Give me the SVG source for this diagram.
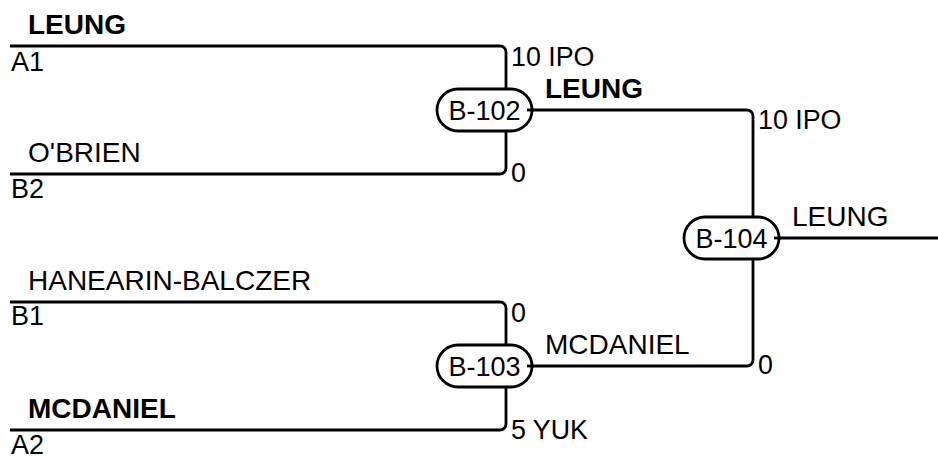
<svg xmlns="http://www.w3.org/2000/svg" width="938" height="457" viewBox="0 0 938 457">
<style>
text{font-family:"Liberation Sans",Arial,sans-serif;font-size:27px;fill:#000}
.n{font-size:28px}
.s{font-size:26.8px}
.b{font-weight:bold}
.m{text-anchor:middle}
.ln{fill:none;stroke:#000;stroke-width:2.8}
.ov{fill:#fff;stroke:#000;stroke-width:2.8}
</style>
<rect width="938" height="457" fill="#fff"/>
<g id="connectors">
<path class="ln" d="M10,46 H500 A6,6 0 0 1 506,52 V89"/>
<path class="ln" d="M10,174 H500 A6,6 0 0 0 506,168 V131"/>
<path class="ln" d="M10,302 H500 A6,6 0 0 1 506,308 V345"/>
<path class="ln" d="M10,430 H500 A6,6 0 0 0 506,424 V387"/>
<path class="ln" d="M527,110 H747 A6,6 0 0 1 753,116 V217"/>
<path class="ln" d="M527,366 H747 A6,6 0 0 0 753,360 V259"/>
<path class="ln" d="M774,238 H938"/>
</g>
<g id="slots">
<text x="28" y="34" class="n b">LEUNG</text>
<text x="11" y="71">A1</text>
<text x="28" y="162" class="n">O'BRIEN</text>
<text x="11" y="198">B2</text>
<text x="28" y="290" class="n">HANEARIN-BALCZER</text>
<text x="11" y="325">B1</text>
<text x="28" y="418" class="n b">MCDANIEL</text>
<text x="11" y="454">A2</text>
</g>
<g id="B-102">
<rect class="ov" x="437" y="89" width="95" height="42" rx="21"/>
<line class="ln" x1="527" y1="110" x2="534" y2="110"/>
<text x="484.5" y="119.5" class="m">B-102</text>
<text x="511" y="66" class="s">10 IPO</text>
<text x="511" y="182" class="s">0</text>
<text x="545" y="98" class="n b">LEUNG</text>
</g>
<g id="B-103">
<rect class="ov" x="437" y="345" width="95" height="42" rx="21"/>
<line class="ln" x1="527" y1="366" x2="534" y2="366"/>
<text x="484.5" y="375.5" class="m">B-103</text>
<text x="511" y="322" class="s">0</text>
<text x="511" y="439" class="s">5 YUK</text>
<text x="545" y="354" class="n">MCDANIEL</text>
</g>
<g id="B-104">
<rect class="ov" x="684" y="217" width="95" height="42" rx="21"/>
<line class="ln" x1="774" y1="238" x2="781" y2="238"/>
<text x="731.5" y="247.5" class="m">B-104</text>
<text x="758" y="129" class="s">10 IPO</text>
<text x="758" y="374" class="s">0</text>
<text x="792" y="226" class="n">LEUNG</text>
</g>
</svg>
